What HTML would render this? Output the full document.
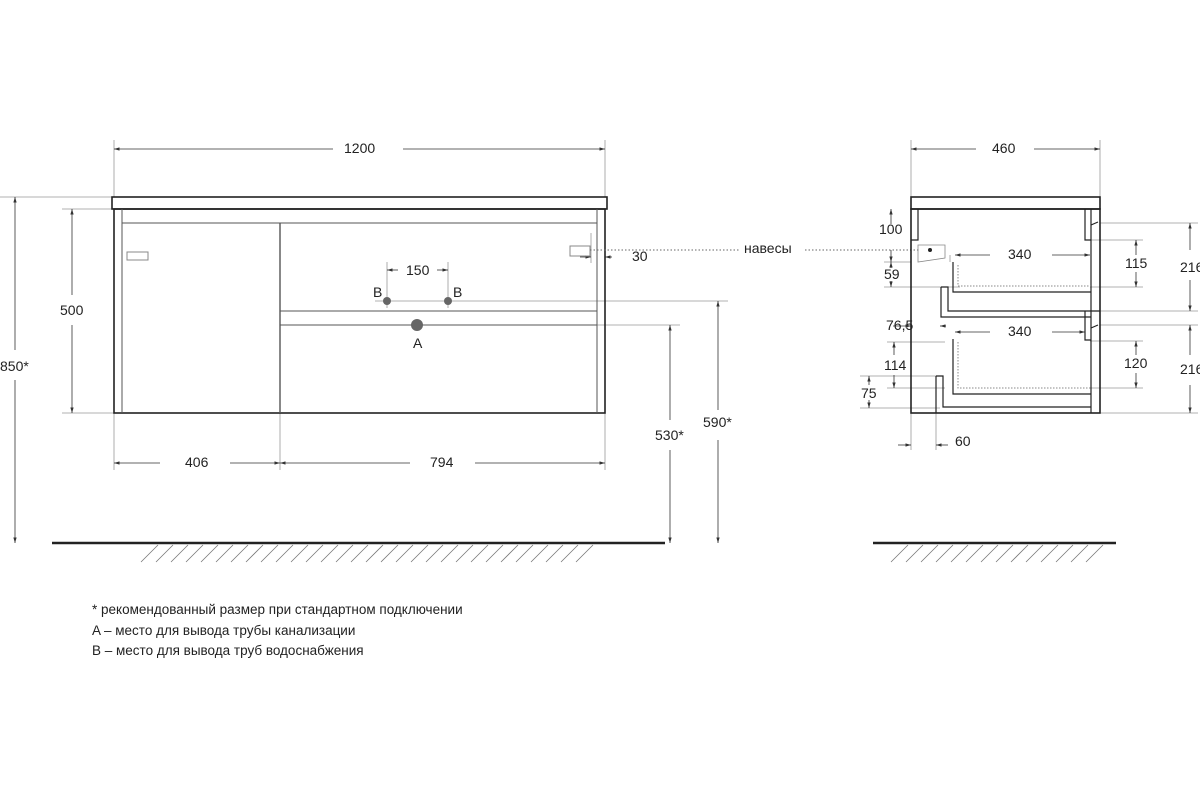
<!DOCTYPE html>
<html><head><meta charset="utf-8"><style>body{margin:0;background:#fff}svg{display:block}text{font-family:"Liberation Sans",sans-serif;fill:#222}</style></head><body>
<svg width="1200" height="800" viewBox="0 0 1200 800" xmlns="http://www.w3.org/2000/svg">
<defs><marker id="a" viewBox="0 0 10 10" refX="10" refY="5" markerWidth="7" markerHeight="7" orient="auto-start-reverse"><path d="M0,2 L10,5 L0,8z" fill="#333"/></marker></defs>
<g stroke="#999" stroke-width="0.8" fill="none">
<line x1="114" y1="140" x2="114" y2="197"/><line x1="605" y1="140" x2="605" y2="197"/>
<line x1="114" y1="413" x2="114" y2="470"/><line x1="280" y1="413" x2="280" y2="470"/><line x1="605" y1="413" x2="605" y2="470"/>
<line x1="0" y1="197" x2="112" y2="197"/><line x1="62" y1="209" x2="114" y2="209"/><line x1="62" y1="413" x2="114" y2="413"/>
<line x1="375" y1="301" x2="728" y2="301"/><line x1="280" y1="325" x2="680" y2="325"/>
<line x1="387" y1="262" x2="387" y2="308"/><line x1="448" y1="262" x2="448" y2="308"/>
<line x1="591" y1="233" x2="591" y2="263"/>
<line x1="911" y1="140" x2="911" y2="197"/><line x1="1100" y1="140" x2="1100" y2="197"/>
<line x1="911" y1="413" x2="911" y2="450"/><line x1="936" y1="413" x2="936" y2="450"/>
<line x1="1100" y1="223" x2="1198" y2="223"/><line x1="1100" y1="311" x2="1198" y2="311"/><line x1="1100" y1="325" x2="1198" y2="325"/><line x1="1100" y1="413" x2="1198" y2="413"/>
<line x1="1090" y1="240" x2="1143" y2="240"/><line x1="1090" y1="287" x2="1143" y2="287"/>
<line x1="1090" y1="341" x2="1143" y2="341"/><line x1="1090" y1="388" x2="1143" y2="388"/>
<line x1="884" y1="262" x2="911" y2="262"/><line x1="884" y1="287" x2="960" y2="287"/>
<line x1="887" y1="342" x2="945" y2="342"/><line x1="887" y1="388" x2="945" y2="388"/>
<line x1="860" y1="376" x2="940" y2="376"/><line x1="860" y1="408" x2="940" y2="408"/>
<line x1="950" y1="255" x2="950" y2="262"/>
</g>
<g stroke="#333" stroke-width="0.8" fill="none" marker-start="url(#a)" marker-end="url(#a)">
<line x1="114" y1="149" x2="333" y2="149" marker-end="none"/><line x1="403" y1="149" x2="605" y2="149" marker-start="none"/>
<line x1="72" y1="209" x2="72" y2="295" marker-end="none"/><line x1="72" y1="325" x2="72" y2="413" marker-start="none"/>
<line x1="15" y1="197" x2="15" y2="350" marker-end="none"/><line x1="15" y1="380" x2="15" y2="543" marker-start="none"/>
<line x1="114" y1="463" x2="160" y2="463" marker-end="none"/><line x1="230" y1="463" x2="280" y2="463" marker-start="none"/>
<line x1="280" y1="463" x2="410" y2="463" marker-end="none"/><line x1="475" y1="463" x2="605" y2="463" marker-start="none"/>
<line x1="670" y1="325" x2="670" y2="420" marker-end="none"/><line x1="670" y1="450" x2="670" y2="543" marker-start="none"/>
<line x1="718" y1="301" x2="718" y2="410" marker-end="none"/><line x1="718" y1="440" x2="718" y2="543" marker-start="none"/>
<line x1="387" y1="270" x2="398" y2="270" marker-end="none"/><line x1="437" y1="270" x2="448" y2="270" marker-start="none"/>
<line x1="911" y1="149" x2="976" y2="149" marker-end="none"/><line x1="1034" y1="149" x2="1100" y2="149" marker-start="none"/>
<line x1="1190" y1="223" x2="1190" y2="250" marker-end="none"/><line x1="1190" y1="280" x2="1190" y2="311" marker-start="none"/>
<line x1="1190" y1="325" x2="1190" y2="355" marker-end="none"/><line x1="1190" y1="385" x2="1190" y2="413" marker-start="none"/>
<line x1="1136" y1="240" x2="1136" y2="255" marker-end="none"/><line x1="1136" y1="272" x2="1136" y2="287" marker-start="none"/>
<line x1="1136" y1="341" x2="1136" y2="355" marker-end="none"/><line x1="1136" y1="373" x2="1136" y2="388" marker-start="none"/>
<line x1="955" y1="255" x2="990" y2="255" marker-end="none"/><line x1="1052" y1="255" x2="1090" y2="255" marker-start="none"/>
<line x1="955" y1="332" x2="990" y2="332" marker-end="none"/><line x1="1052" y1="332" x2="1085" y2="332" marker-start="none"/>
</g>
<g stroke="#333" stroke-width="0.8" fill="none">
<line x1="891" y1="209" x2="891" y2="224" marker-start="url(#a)"/><line x1="891" y1="250" x2="891" y2="262" marker-end="url(#a)"/>
<line x1="891" y1="268" x2="891" y2="262" marker-end="url(#a)"/><line x1="891" y1="281" x2="891" y2="287" marker-end="url(#a)"/>
<line x1="893" y1="326" x2="911" y2="326" marker-end="url(#a)"/><line x1="940" y1="326" x2="946" y2="326" marker-start="url(#a)"/>
<line x1="894" y1="342" x2="894" y2="355" marker-start="url(#a)"/><line x1="894" y1="375" x2="894" y2="388" marker-end="url(#a)"/>
<line x1="869" y1="376" x2="869" y2="385" marker-start="url(#a)"/><line x1="869" y1="400" x2="869" y2="408" marker-end="url(#a)"/>
<line x1="898" y1="445" x2="911" y2="445" marker-end="url(#a)"/><line x1="948" y1="445" x2="936" y2="445" marker-end="url(#a)"/>
<line x1="580" y1="257" x2="591" y2="257" marker-end="url(#a)"/><line x1="612" y1="257" x2="605" y2="257" marker-end="url(#a)"/>
</g>
<g stroke="#222" fill="none">
<rect x="112" y="197" width="495" height="12" stroke-width="1.6"/>
<rect x="114" y="209" width="491" height="204" stroke-width="1.6"/>
<g stroke-width="1" stroke="#555"><line x1="122" y1="209" x2="122" y2="413"/><line x1="597" y1="209" x2="597" y2="413"/><line x1="122" y1="223" x2="597" y2="223"/>
<line x1="280" y1="223" x2="280" y2="413" stroke-width="1.4"/><line x1="280" y1="311" x2="597" y2="311"/><line x1="280" y1="325" x2="597" y2="325"/>
<rect x="127" y="252" width="21" height="8" stroke="#888"/><rect x="570" y="246" width="20" height="10" stroke="#888"/></g>
</g>
<line x1="590" y1="250" x2="740" y2="250" stroke="#666" stroke-dasharray="1.5,2"/>
<line x1="805" y1="250" x2="920" y2="250" stroke="#666" stroke-dasharray="1.5,2"/>
<circle cx="387" cy="301" r="4" fill="#666"/><circle cx="448" cy="301" r="4" fill="#666"/><circle cx="417" cy="325" r="6" fill="#666"/>
<g stroke="#222" fill="none" stroke-width="1.2">
<rect x="911" y="197" width="189" height="12" stroke-width="1.6"/>
<rect x="911" y="209" width="189" height="204" stroke-width="1.6"/>
<line x1="1091" y1="209" x2="1091" y2="413"/>
<path d="M918 209 V240 H911"/><path d="M1085 209 V240 H1091"/>
<path d="M1091 225 L1098 222 M1091 328 L1098 325 M1091 311 H1100"/>
<path d="M953 262 V292 H1091"/><path d="M941 287 H948 V311 H1091 M941 287 V317 H1091"/>
<path d="M1085 311 V340 H1091"/>
<path d="M953 339 V394 H1091"/><path d="M936 376 H943 V407 H1091 M936 376 V413"/>
<path d="M918 245 H945 V258 L918 262Z" stroke="#888" stroke-width="0.8"/>
</g>
<g stroke="#888" stroke-dasharray="1.5,1.5" fill="none"><path d="M958 265 V286 H1091"/><path d="M958 342 V388 H1091"/></g>
<circle cx="930" cy="250" r="2" fill="#222"/>
<line x1="52" y1="543" x2="665" y2="543" stroke="#222" stroke-width="2.5"/>
<line x1="873" y1="543" x2="1116" y2="543" stroke="#222" stroke-width="2.5"/>
<path stroke="#777" stroke-width="0.8" fill="none" d="
M158 545 L141 562 M173 545 L156 562 M188 545 L171 562 M203 545 L186 562 M218 545 L201 562 M233 545 L216 562 M248 545 L231 562 M263 545 L246 562 M278 545 L261 562 M293 545 L276 562 M308 545 L291 562 M323 545 L306 562 M338 545 L321 562 M353 545 L336 562 M368 545 L351 562 M383 545 L366 562 M398 545 L381 562 M413 545 L396 562 M428 545 L411 562 M443 545 L426 562 M458 545 L441 562 M473 545 L456 562 M488 545 L471 562 M503 545 L486 562 M518 545 L501 562 M533 545 L516 562 M548 545 L531 562 M563 545 L546 562 M578 545 L561 562 M593 545 L576 562
M908 545 L891 562 M923 545 L906 562 M938 545 L921 562 M953 545 L936 562 M968 545 L951 562 M983 545 L966 562 M998 545 L981 562 M1013 545 L996 562 M1028 545 L1011 562 M1043 545 L1026 562 M1058 545 L1041 562 M1073 545 L1056 562 M1088 545 L1071 562 M1103 545 L1086 562"/>
<g font-size="14">
<text x="344" y="153">1200</text><text x="992" y="153">460</text>
<text x="60" y="315">500</text><text x="0" y="371">850*</text>
<text x="185" y="467">406</text><text x="430" y="467">794</text>
<text x="655" y="440">530*</text><text x="703" y="427">590*</text>
<text x="406" y="275">150</text><text x="373" y="297">B</text><text x="453" y="297">B</text><text x="413" y="348">A</text>
<text x="632" y="261">30</text><text x="744" y="253">навесы</text>
<text x="879" y="234">100</text><text x="884" y="279">59</text><text x="886" y="330">76,5</text><text x="884" y="370">114</text><text x="861" y="398">75</text><text x="955" y="446">60</text>
<text x="1008" y="259">340</text><text x="1008" y="336">340</text>
<text x="1125" y="268">115</text><text x="1124" y="368">120</text>
<text x="1180" y="272">216</text><text x="1180" y="374">216</text>
</g>
<g font-size="13.5">
<text x="92" y="614">* рекомендованный размер при стандартном подключении</text>
<text x="92" y="635">A – место для вывода трубы канализации</text>
<text x="92" y="655">B – место для вывода труб водоснабжения</text>
</g>
</svg>
</body></html>
